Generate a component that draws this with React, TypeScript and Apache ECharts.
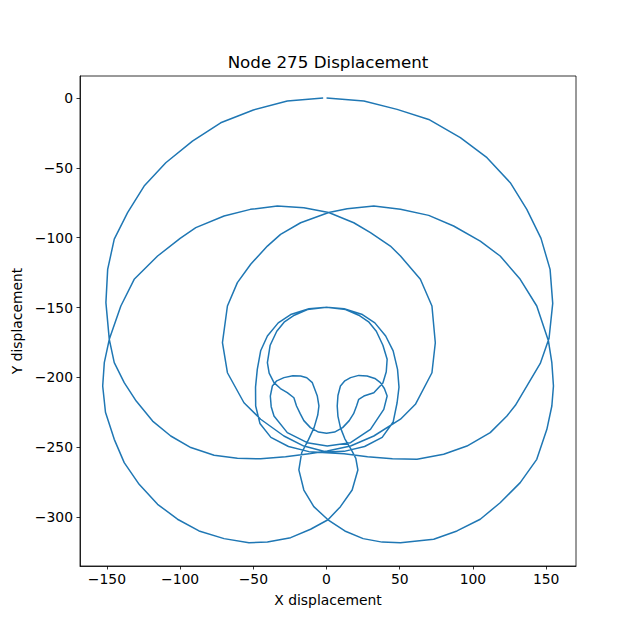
import React, { useEffect, useRef } from "react";
import * as echarts from "echarts";

// Tick values
const xTicks = [-150, -100, -50, 0, 50, 100, 150];
const yTicks = [0, -50, -100, -150, -200, -250, -300];

// Outer upper lobe, right half, then inward along the bottom
const outerLobeRight: number[][] = [
  [0, 0], [25.5, -2.1], [48.2, -8.1], [69.8, -15.3], [91.4, -28.4], [109.6, -42.7],
  [125.5, -60.6], [136.8, -79.7], [146.5, -100.5], [152.7, -122.7], [154.5, -147],
  [152, -172], [146, -190], [137, -206], [129, -220], [123.2, -227.7], [111.8, -239.6],
  [95.9, -249.2], [80, -255.1], [61.8, -258.7], [45, -258.3], [28, -256.8], [12, -254.8], [0, -254],
];

// Central rings (wide ring left, narrow ring right, S-curves, narrow ring left, wide ring right)
const centralRings: number[][] = [
  [-12, -253.2], [-26, -249.5], [-38, -243], [-45.5, -233], [-48.4, -220.5], [-48.5, -207],
  [-47.3, -194.3], [-45, -181], [-40.4, -170.4], [-33, -161], [-24.5, -155], [-12, -150.8], [0, -149.8],
  [13, -151.5], [22, -155.5], [29, -160.5], [34, -167], [38.5, -177], [41.4, -187], [40.8, -196],
  [38.5, -204], [32.3, -211], [25.5, -213.4], [22, -215.7], [20.5, -220.5], [18.5, -226],
  [15.5, -231], [11, -236], [5.5, -239.2], [0, -240], [-5.5, -239.2], [-11, -236], [-15.5, -231],
  [-18, -226], [-20.5, -220.5], [-22.3, -214.6], [-26.8, -211], [-31.5, -208], [-35.9, -203.8],
  [-39.2, -197], [-40.4, -189.5], [-38.5, -177], [-34, -167], [-29, -160.5], [-22, -155.5],
  [-13, -151.5], [0, -149.8], [12, -150.8], [24.5, -155], [33, -161], [40.4, -170.4], [45.5, -181],
  [48.5, -194.3], [49.5, -207], [48.2, -218.2], [45.5, -232], [38, -243], [26, -249.5], [12, -253], [0, -253.4],
];

// Medium loop + lower big lobe + bottom loop + small side loops
const lowerCircuit: number[][] = [
  [-15.5, -249.2], [-29.1, -242], [-45, -230], [-56.4, -218.2], [-67.7, -196.7], [-71.1, -175.2],
  [-67.7, -148.9], [-60.9, -132.2], [-51.8, -119], [-40.4, -106], [-31.4, -97.6], [-17.7, -89.3],
  [1.5, -82], [14.1, -79.2], [32.3, -77.3], [50.5, -79.7], [69.8, -84], [86.8, -91.6], [105, -102.4],
  [118.6, -113.1], [132.3, -129.8], [143.6, -148.9], [151.6, -174], [153.9, -189.5], [155, -206.2],
  [153.9, -220.5], [150.5, -237.2], [143.6, -258.7], [132.3, -275.4], [118.6, -289.8], [105, -301.6],
  [89.1, -310], [73.2, -316], [50.5, -318.4], [38, -318], [25, -315.5], [12.5, -310], [1, -302],
  [-8.7, -292.6], [-15.5, -280.7], [-18.9, -266.3], [-17, -254], [-12.5, -245], [-8.5, -236],
  [-6, -227], [-5.2, -220.5], [-6.3, -213.4], [-9.7, -203.8], [-13.5, -200.3], [-17.7, -199],
  [-23, -198.8], [-29.1, -200.2], [-34, -202.5], [-37, -206.2], [-38.4, -213.4], [-37.8, -221],
  [-35.9, -227.7], [-26.8, -239.6], [-13.2, -246.8], [0.5, -249.2], [16.4, -246.8], [30, -237.2],
  [39.1, -222.9], [41.4, -213.4], [39.5, -208], [36.8, -203.8], [33, -200.8], [27.7, -199],
  [22, -198.6], [16.4, -200.2], [12.5, -202.5], [9.5, -206.2], [7.8, -213], [7.3, -220.5],
  [7.8, -228], [9.5, -236], [12.5, -244], [17, -252], [20, -258], [21.4, -266.3], [17.5, -280.7],
  [9.5, -292.6], [1, -302], [-10.9, -308.8], [-24.5, -314.8], [-40.4, -317.9], [-53, -318.4],
  [-70, -315.5], [-87.1, -310], [-101.8, -301.6], [-115.4, -290.9], [-128, -276.6], [-138.2, -261.1],
  [-145, -244.4], [-151, -225], [-152.9, -206.2], [-151.8, -189.5], [-148.4, -172.8], [-140.5, -148.9],
  [-131.4, -129.8], [-115.4, -113.1], [-100, -100.5], [-89.3, -92.8], [-70, -84.5], [-52, -79.7],
  [-33.6, -77.3], [-15.5, -78.5], [1.5, -82], [18.6, -89.3], [30, -96.4], [43.6, -106], [50.5, -113.1],
  [64.1, -129.8], [72, -148.9], [74.3, -175.2], [72, -196.7], [60.7, -219.3], [50.5, -230],
  [32.3, -242], [16.4, -249.2], [0.5, -252.7],
];

// Outward along the bottom, then the upper lobe's left half back to the top
const outerLobeLeft: number[][] = [
  [-12, -254.8], [-28, -256.8], [-45, -258.3], [-60.9, -258], [-76.8, -255.8], [-92.7, -250.3],
  [-106.4, -242], [-118.8, -231.3], [-130, -217], [-138.2, -203.8], [-145, -189.5], [-148.4, -172.8],
  [-150.7, -146.5], [-149.5, -122.7], [-145, -101], [-135.9, -82.1], [-124.6, -63], [-109.8, -46.3],
  [-91.6, -30.8], [-72.3, -17.7], [-50, -8.5], [-26.8, -2.1], [-2.3, 0],
];

const FONT = "DejaVu Sans";
const fmt = (v: number) => (v < 0 ? "\u2212" + Math.abs(v) : String(v));

export default function App() {
  const ref = useRef<HTMLDivElement>(null);
  useEffect(() => {
    if (!ref.current) return;
    const chart = echarts.init(ref.current, undefined, { renderer: "svg" });
    const path = [...outerLobeRight, ...centralRings, ...lowerCircuit, ...outerLobeLeft];
    chart.setOption({
      animation: false,
      backgroundColor: "#fff",
      title: {
        text: "Node 275 Displacement",
        left: 328,
        top: 53,
        textAlign: "center",
        padding: 0,
        textStyle: { fontFamily: FONT, fontSize: 16.7, fontWeight: "normal", color: "#000" },
      },
      grid: {
        left: 80, top: 76, width: 496, height: 490,
        show: true, borderColor: "#000", borderWidth: 0.8, backgroundColor: "transparent",
      },
      xAxis: {
        type: "value",
        min: -168.4,
        max: 170.4,
        position: "bottom",
        name: "X displacement",
        nameLocation: "middle",
        nameGap: 27,
        nameTextStyle: { fontFamily: FONT, fontSize: 13.9, color: "#000" },
        axisLine: { show: true, onZero: false, lineStyle: { color: "#000", width: 0.8 } },
        splitLine: { show: false },
        axisTick: { show: true, inside: false, customValues: xTicks, length: 3.5, lineStyle: { color: "#000", width: 0.8 } },
        axisLabel: { customValues: xTicks, formatter: fmt, margin: 6, color: "#000", fontFamily: FONT, fontSize: 13.9 },
      },
      yAxis: {
        type: "value",
        min: -335.1,
        max: 15.8,
        position: "left",
        name: "Y displacement",
        nameLocation: "middle",
        nameGap: 53,
        nameTextStyle: { fontFamily: FONT, fontSize: 13.9, color: "#000" },
        axisLine: { show: true, onZero: false, lineStyle: { color: "#000", width: 0.8 } },
        splitLine: { show: false },
        axisTick: { show: true, inside: false, customValues: yTicks, length: 3.5, lineStyle: { color: "#000", width: 0.8 } },
        axisLabel: { customValues: yTicks, formatter: fmt, margin: 7, color: "#000", fontFamily: FONT, fontSize: 13.9 },
      },
      series: [
        {
          type: "line",
          data: path,
          showSymbol: false,
          symbol: "none",
          clip: true,
          lineStyle: { color: "#1f77b4", width: 1.5, join: "round", cap: "butt" },
        },
      ],
    });
    return () => chart.dispose();
  }, []);
  return (
    <div
      ref={ref}
      style={{ position: "absolute", left: 0, top: 0, width: 640, height: 636, background: "#fff" }}
    />
  );
}
